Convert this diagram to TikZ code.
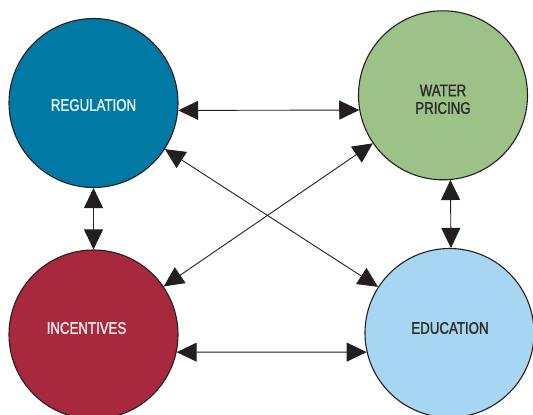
\documentclass[tikz,border=0pt]{standalone}
\usepackage{fontspec}
\newfontfamily\lblfont{Liberation Sans}[FakeStretch=0.79, FakeBold=1.2]
\usepackage{xcolor}
\usepackage{tikz}
\usetikzlibrary{arrows.meta, positioning, calc}

\definecolor{regblue}{HTML}{0079A5}
\definecolor{watergreen}{HTML}{9CC288}
\definecolor{incred}{HTML}{A8293D}
\definecolor{edublue}{HTML}{A7D6F2}
\definecolor{darktext}{HTML}{2B2B2B}
\definecolor{linegray}{HTML}{231F20}

\tikzset{
  topic/.style={circle, draw=linegray, line width=1.1pt, minimum size=169pt, inner sep=0pt},
  lbl/.style={font=\lblfont\fontsize{16.8}{17.6}\selectfont, align=center},
  link/.style={line width=0.9pt, draw=linegray, <->, >={Triangle[length=20pt,width=19pt]}}
}

\begin{document}
\begin{tikzpicture}[x=1pt,y=-1pt]
            \useasboundingbox (0,0) rectangle (533,415);
            \clip (0,0) rectangle (533,415);

            \node[topic, fill=regblue,
              label={[lbl, text=white!92!regblue, yshift=-2pt]center:REGULATION}] (reg) at (93.5,103) {};
            \node[topic, fill=watergreen,
              label={[lbl, text=darktext, yshift=-4pt]center:WATER\\PRICING}] (water) at (443,95.3) {};
            \node[topic, fill=incred,
              label={[lbl, text=white!92!incred, xshift=-7pt, yshift=6.5pt]center:INCENTIVES}] (inc) at (93.5,334.5) {};
            \node[topic, fill=edublue,
              label={[lbl, text=darktext, xshift=0.5pt, yshift=5pt]center:EDUCATION}] (edu) at (449.5,333) {};

            \draw[link] (reg.-5) -- (water.190);
            \draw[link] (inc.-12.3) -- (edu.193);
            \draw[link] (reg.south) -- (inc.north);
            \draw[link] (water.-85) -- (edu.89);
            \draw[link] (reg) -- (edu);
            \draw[link] (water) -- (inc);
          \end{tikzpicture}
\end{document}
